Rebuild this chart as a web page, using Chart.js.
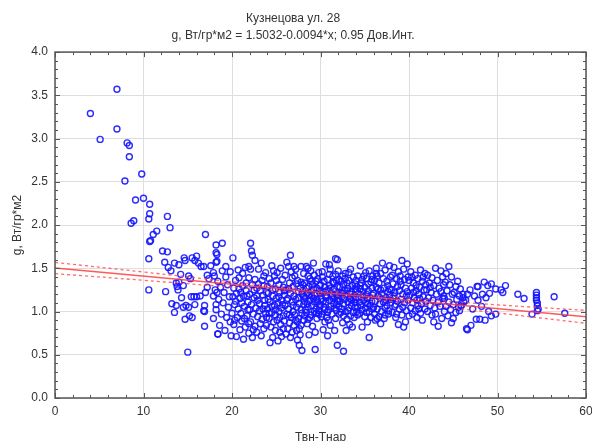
<!DOCTYPE html>
<html>
<head>
<meta charset="utf-8">
<script src="https://cdn.jsdelivr.net/npm/chart.js@4"></script>
<style>
  body { margin: 0; background: #fff; }
  canvas { display: block; }
</style>
</head>
<body>
<canvas id="chart" width="592" height="441"></canvas>
<script>
const titleLines = ['Кузнецова ул. 28', 'g, Вт/гр*м2 = 1.5032-0.0094*x; 0.95 Дов.Инт.'];
const xLabel = 'Твн-Тнар';
const yLabel = 'g, Вт/гр*м2';

// regression and 0.95 confidence band
const fitA = 1.5032;
const fitB = -0.0094;
const bandX = [0, 10, 20, 30, 40, 50, 60];
const bandUp = [1.568, 1.457, 1.345, 1.246, 1.155, 1.077, 1.014];
const bandLo = [1.438, 1.361, 1.281, 1.196, 1.095, 0.983, 0.864];

// observations, grouped by Твн-Тнар range
const tailLeft = [[4.0,3.29],[7.0,3.57],[7.0,3.11],[5.1,2.99],[8.15,2.95],[8.4,2.92],[8.4,2.79],[9.8,2.59],[7.9,2.51],
  [9.1,2.29],[10.0,2.31],[10.7,2.24],[10.7,2.13],[10.6,2.07],[8.9,2.05],[8.6,2.02],[12.7,2.10],[13.0,1.97],[11.5,1.93],
  [11.1,1.89],[10.7,1.81],[10.8,1.82]];

const obs12to18 = [[17.0,1.89],[18.2,1.68],[12.15,1.70],[12.7,1.69],[10.6,1.61],[14.6,1.62],[14.7,1.59],[15.5,1.62],
  [16.0,1.64],[15.8,1.59],[12.4,1.57],[13.5,1.56],[14.0,1.54],[12.8,1.51],[13.1,1.47],[16.2,1.56],[16.5,1.52],[16.8,1.52],
  [17.6,1.53],[18.2,1.57],[14.2,1.43],[15.1,1.41],[15.3,1.38],[17.2,1.42],[17.4,1.38],[17.9,1.45],[18.0,1.41],[10.6,1.25],
  [12.5,1.23],[13.7,1.33],[13.8,1.29],[13.9,1.25],[14.5,1.30],[14.0,1.34],[14.3,1.16],[15.4,1.17],[15.7,1.17],[16.0,1.17],
  [16.4,1.18],[17.0,1.22],[17.2,1.28],[17.9,1.18],[18.3,1.22],[13.2,1.09],[13.7,1.07],[14.8,1.07],[15.8,1.08],[16.9,1.07],
  [18.2,1.08],[13.5,0.99],[14.5,1.05],[15.1,1.05],[16.8,1.01],[16.9,1.00],[14.7,0.91],[15.2,0.95],[15.5,0.93],[17.9,0.92],
  [16.9,0.83],[18.4,0.74],[15.0,0.53]];

const obs18to24 = [[18.2,1.77],[18.3,1.66],[18.3,1.58],[18.9,1.79],[18.9,1.47],[19.3,1.52],[18.4,1.35],[18.7,1.28],
  [19.1,1.22],[19.5,1.31],[18.5,1.14],[19.0,1.10],[19.6,1.05],[18.2,1.02],[18.8,0.97],[19.4,0.93],[19.8,0.88],[18.6,0.84],
  [19.2,0.78],[19.9,0.72],[18.4,0.74],[19.7,1.17],[19.3,1.40],[18.1,1.25],[19.8,1.46],
  [20.1,1.62],[20.4,1.36],[20.8,1.39],[20.2,1.27],[20.5,1.21],[20.9,1.15],[21.2,1.30],[21.5,1.51],[21.9,1.52],[21.9,1.39],
  [21.6,1.24],[21.3,1.18],[20.3,1.08],[20.7,1.03],[21.0,0.98],[21.4,1.06],[21.8,1.11],[20.6,0.93],[21.1,0.89],[21.7,0.95],
  [20.2,0.85],[20.9,0.79],[21.5,0.82],[21.9,0.75],[20.5,0.71],[21.3,0.68],[20.0,0.98],[20.4,1.12],[21.0,1.22],[21.6,1.33],
  [21.2,1.44],[20.7,1.48],[21.8,1.02],[20.1,1.17],[21.4,0.92],[20.8,1.26],[21.7,1.18],[20.3,0.90],[21.1,1.10],[21.9,0.86],
  [22.1,1.79],[22.2,1.70],[22.3,1.65],[22.6,1.59],[23.3,1.56],[22.1,1.49],[23.0,1.49],[22.6,1.37],[23.4,1.36],[23.8,1.45],
  [22.3,1.31],[22.8,1.27],[23.2,1.24],[23.6,1.30],[22.0,1.20],[22.5,1.16],[22.9,1.13],[23.5,1.19],[23.9,1.22],[22.2,1.08],
  [22.7,1.04],[23.1,1.01],[23.7,1.07],[22.4,0.97],[22.9,0.94],[23.4,0.91],[23.8,0.98],[22.1,0.88],[22.6,0.83],[23.2,0.86],
  [23.6,0.80],[22.8,0.76],[23.3,0.72],[22.3,0.70],[23.9,0.84],[22.5,1.25],[23.0,1.32],[23.7,1.13],[22.0,1.02],[23.5,1.03],
  [22.8,1.18],[23.9,0.93],[22.4,0.79],[23.1,1.09],[23.6,1.41]];

const obs24to30 = [[24.5,1.53],[24.7,1.47],[25.5,1.50],[24.2,1.38],[25.1,1.45],[25.7,1.37],[24.0,1.29],[24.4,1.33],
  [24.9,1.26],[25.3,1.31],[25.8,1.28],[24.1,1.21],[24.6,1.18],[25.0,1.15],[25.4,1.22],[25.9,1.19],[24.3,1.11],[24.8,1.07],
  [25.2,1.10],[25.6,1.04],[24.0,1.03],[24.5,0.99],[24.9,0.96],[25.3,1.00],[25.8,0.95],[24.2,0.92],[24.7,0.88],[25.1,0.90],
  [25.5,0.85],[25.9,0.89],[24.4,0.82],[24.9,0.78],[25.4,0.76],[25.8,0.80],[24.6,0.70],[25.2,0.66],[24.3,0.64],[25.6,0.71],
  [24.8,1.41],[25.6,1.13],[24.1,1.14],[25.0,1.36],[24.6,1.25],[25.3,1.17],[24.2,0.98],[25.7,1.08],[24.9,1.02],[25.4,0.93],
  [24.5,1.06],[25.9,1.24],
  [26.2,1.57],[26.6,1.65],[26.4,1.52],[27.0,1.52],[27.2,1.49],[26.8,1.39],[27.4,1.36],[27.8,1.52],[26.0,1.42],[26.5,1.33],
  [26.9,1.29],[27.3,1.32],[27.7,1.27],[26.1,1.25],[26.6,1.21],[27.0,1.18],[27.5,1.23],[27.9,1.20],[26.3,1.15],[26.8,1.11],
  [27.2,1.14],[27.6,1.09],[26.0,1.07],[26.4,1.03],[26.9,1.00],[27.3,1.05],[27.8,1.02],[26.2,0.97],[26.7,0.93],[27.1,0.96],
  [27.5,0.92],[27.9,0.98],[26.5,0.87],[27.0,0.84],[27.4,0.88],[27.8,0.84],[26.3,0.80],[26.8,0.76],[27.3,0.78],[27.7,0.73],
  [26.6,0.70],[27.4,0.67],[27.6,0.61],[27.9,0.55],[26.1,0.74],[27.6,0.80],[26.7,1.46],[27.1,1.41],[26.4,1.26],[27.5,1.16],
  [26.9,1.07],[27.2,0.90],[26.2,1.13],[27.8,1.34],[26.5,0.96],
  [28.4,1.52],[28.6,1.50],[29.2,1.56],[29.8,1.45],[29.3,1.42],[28.1,1.44],[28.8,1.38],[29.5,1.35],[28.2,1.33],[28.7,1.29],
  [29.1,1.31],[29.6,1.27],[28.0,1.24],[28.5,1.21],[28.9,1.23],[29.4,1.19],[29.9,1.22],[28.3,1.16],[28.8,1.13],[29.2,1.15],
  [29.7,1.11],[28.1,1.08],[28.6,1.05],[29.0,1.07],[29.5,1.03],[29.9,1.06],[28.4,0.99],[28.9,0.96],[29.3,1.00],[29.8,0.97],
  [28.1,0.90],[28.5,0.86],[29.6,0.92],[29.4,0.76],[28.7,0.73],[29.4,0.56],[28.2,1.12],[29.0,1.18],[29.7,1.38],[28.6,1.41],
  [29.2,1.26],[28.3,1.02],[29.6,1.14],[28.8,0.93],[29.1,0.83],[28.0,1.31],[29.9,1.30],[28.5,1.09],[29.3,1.11],[28.9,1.47],
  [28.2,0.95],[29.5,0.98],[28.7,1.19],[29.8,1.01],[28.4,1.27],[29.0,1.35],[28.1,1.17],[29.6,1.21],[28.6,0.91]];

const obs30to36 = [[30.6,1.55],[31.0,1.54],[31.1,1.49],[31.7,1.61],[31.9,1.60],[31.7,1.43],[30.2,1.40],[30.8,1.37],
  [31.4,1.34],[30.0,1.31],[30.5,1.28],[31.0,1.30],[31.5,1.26],[31.9,1.29],[30.3,1.22],[30.7,1.19],[31.2,1.21],[31.6,1.17],
  [30.1,1.14],[30.6,1.11],[31.0,1.13],[31.5,1.09],[31.9,1.12],[30.4,1.05],[30.9,1.02],[31.3,0.97],[31.8,1.01],[30.2,0.97],
  [30.7,0.93],[31.7,0.92],[30.5,0.88],[31.1,0.84],[30.3,0.79],[31.6,0.78],[30.8,0.72],[31.9,0.61],[30.1,1.24],[30.9,1.25],
  [31.4,1.41],[30.4,1.35],[31.8,1.36],[30.6,1.16],[31.2,1.06],[30.0,1.08],[31.6,1.04],[30.8,0.99],[31.4,1.15],[30.2,1.46],
  [31.0,1.43],[30.5,1.02],[31.7,1.20],[30.3,1.12],[31.1,1.27],[30.9,0.90],[31.5,1.33],[30.7,1.24],[31.8,1.08],[30.1,0.94],
  [31.3,1.18],
  [32.1,0.97],[32.6,0.95],[33.4,0.95],[33.6,0.82],[32.6,0.54],[33.4,1.49],[33.2,1.45],[32.5,1.41],[32.0,1.47],[32.8,1.38],
  [33.7,1.40],[32.3,1.35],[33.0,1.33],[33.9,1.32],[32.2,1.28],[32.7,1.25],[33.1,1.27],[33.5,1.23],[33.9,1.26],[32.0,1.20],
  [32.4,1.17],[32.9,1.19],[33.3,1.15],[33.8,1.18],[32.2,1.12],[32.6,1.09],[33.1,1.11],[33.5,1.07],[33.9,1.10],[32.4,1.03],
  [32.8,1.00],[33.2,1.04],[33.7,0.99],[32.1,1.06],[33.0,0.91],[33.8,0.93],[32.5,0.87],[33.3,0.85],[32.9,0.78],[33.6,1.30],
  [32.3,1.22],[33.2,1.36],[32.7,1.14],[33.5,1.13],[32.0,1.15],[33.9,1.05],[32.6,1.31],[33.0,1.24],[32.3,0.99],[33.4,1.20],
  [32.8,1.44],[33.7,1.16],[32.1,1.37],[33.1,1.01],[32.5,1.21],
  [34.5,1.53],[34.2,1.41],[35.1,1.45],[35.9,1.41],[34.2,0.96],[35.3,0.88],[34.7,0.82],[35.5,0.70],[34.0,1.36],[34.6,1.33],
  [35.2,1.38],[35.7,1.34],[34.1,1.29],[34.5,1.26],[35.0,1.28],[35.4,1.24],[35.8,1.27],[34.3,1.21],[34.8,1.18],[35.2,1.20],
  [35.6,1.16],[34.0,1.14],[34.4,1.11],[34.9,1.13],[35.3,1.09],[35.8,1.12],[34.2,1.05],[34.7,1.02],[35.1,1.04],[35.5,1.00],
  [35.9,1.03],[34.4,0.98],[35.0,0.94],[35.7,0.93],[34.9,1.41],[35.5,1.47],[34.3,1.16],[35.1,1.10],[34.6,1.07],[35.4,1.32],
  [34.8,1.23],[35.9,1.19],[34.1,1.00],[35.6,1.07],[34.5,1.30],[35.2,0.99],[34.0,1.24],[35.8,1.37],[34.7,1.37],[35.3,1.15]];

const obs36to46 = [[36.4,1.41],[36.2,0.90],[36.4,0.92],[37.7,0.97],[36.3,1.50],[36.8,1.44],[37.3,1.48],[37.8,1.53],
  [36.1,1.36],[36.6,1.33],[37.1,1.38],[37.5,1.35],[37.9,1.40],[36.3,1.28],[36.8,1.25],[37.2,1.27],[37.6,1.23],[36.0,1.21],
  [36.5,1.18],[36.9,1.20],[37.4,1.16],[37.8,1.19],[36.2,1.12],[36.7,1.09],[37.1,1.11],[37.5,1.07],[37.9,1.10],[36.4,1.03],
  [36.9,1.00],[37.3,1.04],[37.7,1.01],[36.1,0.97],[36.6,0.94],[37.2,0.92],[36.8,0.86],[37.0,1.56],[37.6,1.30],[36.5,1.26],
  [37.4,1.13],[36.0,1.05],[37.9,1.14],[36.7,1.16],[37.3,0.96],[36.3,1.44],[37.8,1.26],
  [39.2,1.59],[38.5,0.93],[39.6,0.88],[40.0,0.95],[38.3,1.51],[38.8,1.46],[39.4,1.49],[39.8,1.55],[38.1,1.42],[38.6,1.38],
  [39.0,1.41],[39.5,1.37],[39.9,1.40],[38.2,1.32],[38.7,1.29],[39.1,1.31],[39.6,1.27],[38.0,1.25],[38.4,1.22],[38.9,1.24],
  [39.3,1.20],[39.8,1.23],[38.2,1.15],[38.7,1.12],[39.1,1.14],[39.5,1.10],[39.9,1.13],[38.4,1.06],[38.9,1.03],[39.3,1.05],
  [39.7,1.01],[38.1,0.99],[38.6,0.97],[39.2,0.96],[38.8,0.85],[39.4,0.82],[38.3,1.18],[39.0,1.35],[39.7,1.18],[38.5,1.08],
  [40.4,0.97],[41.1,1.03],[40.2,1.46],[40.7,1.42],[41.3,1.48],[41.8,1.44],[40.0,1.36],[40.5,1.33],[41.0,1.38],[41.5,1.35],
  [41.9,1.31],[40.3,1.27],[40.8,1.24],[41.2,1.28],[41.7,1.25],[40.1,1.19],[40.6,1.16],[41.1,1.20],[41.6,1.17],[40.4,1.10],
  [40.9,1.13],[41.4,1.09],[41.9,1.12],[40.2,1.04],[40.7,1.01],[41.3,0.98],[41.8,1.03],[40.9,0.93],[41.5,0.90],[41.0,1.07],
  [40.5,1.22],[41.6,1.40],[40.3,1.40],[41.2,1.15],[40.8,1.30],
  [43.0,1.50],[43.6,1.47],[43.0,0.97],[44.0,1.00],[42.1,1.42],[42.6,1.39],[43.2,1.36],[43.8,1.40],[42.3,1.33],[42.8,1.30],
  [43.4,1.27],[43.9,1.31],[42.0,1.25],[42.5,1.22],[43.1,1.20],[43.6,1.23],[42.2,1.16],[42.7,1.13],[43.3,1.11],[43.8,1.15],
  [42.4,1.07],[42.9,1.04],[43.5,1.06],[42.1,1.00],[42.6,0.96],[43.7,0.92],[42.8,0.88],[43.3,0.83],[42.4,1.28],[43.9,1.18],
  [44.5,1.52],[45.5,1.35],[44.2,1.44],[44.8,1.40],[45.3,1.29],[45.8,1.26],[44.1,1.34],[44.6,1.31],[45.1,1.22],[45.7,1.18],
  [44.3,1.24],[44.9,1.20],[45.4,1.14],[44.0,1.15],[44.5,1.11],[45.0,1.08],[45.6,1.05],[44.2,1.06],[44.7,1.02],[45.3,0.99],
  [44.4,0.95],[45.0,0.92],[44.8,0.87],[45.9,1.07],[45.7,1.01]];

const tailRight = [[46.1,1.20],[46.6,1.20],[46.1,1.16],[46.4,1.13],[45.9,1.07],[46.2,1.11],[47.7,1.29],[48.5,1.34],
  [47.8,1.29],[48.9,1.30],[49.3,1.32],[48.3,1.20],[49.1,1.21],[48.7,1.16],[49.8,1.26],[50.4,1.25],[50.6,1.22],[47.8,1.13],
  [49.0,1.00],[49.3,0.95],[49.8,0.97],[47.6,0.91],[48.0,0.91],[48.6,0.90],[47.0,0.84],[46.6,0.79],[46.5,0.80],[52.3,1.20],
  [53.0,1.15],[54.4,1.22],[54.4,1.19],[54.4,1.16],[54.4,1.13],[54.5,1.10],[54.5,1.07],[54.6,1.03],[53.9,0.97],[54.5,1.01],
  [56.4,1.17],[57.6,0.98],[47.2,1.03],[46.9,1.25],[47.4,1.18],[48.2,1.06],[50.9,1.30]];

const observations = [].concat(tailLeft, obs12to18, obs18to24, obs24to30, obs30to36, obs36to46, tailRight)
  .map(p => ({ x: p[0], y: p[1] }));

const fitLine = [{ x: 0, y: fitA }, { x: 60, y: fitA + fitB * 60 }];
const upperBand = bandX.map((x, i) => ({ x, y: bandUp[i] }));
const lowerBand = bandX.map((x, i) => ({ x, y: bandLo[i] }));

// frame round the plot plus the small inward ticks
const frameTicks = {
  id: 'frameTicks',
  afterDraw(chart) {
    const { ctx, chartArea: a, scales: { x, y } } = chart;
    ctx.save();
    ctx.strokeStyle = '#555';
    ctx.lineWidth = 1;
    ctx.beginPath();
    for (let v = 0; v <= 60; v += 2) {
      const px = Math.round(x.getPixelForValue(v)) + 0.5;
      const len = v % 10 === 0 ? 5 : 3;
      ctx.moveTo(px, a.bottom); ctx.lineTo(px, a.bottom - len);
      ctx.moveTo(px, a.top); ctx.lineTo(px, a.top + len);
    }
    for (let i = 0; i <= 40; i++) {
      const py = Math.round(y.getPixelForValue(i / 10)) + 0.5;
      const len = i % 5 === 0 ? 5 : 3;
      ctx.moveTo(a.left, py); ctx.lineTo(a.left + len, py);
      ctx.moveTo(a.right, py); ctx.lineTo(a.right - len, py);
    }
    ctx.stroke();
    ctx.lineWidth = 1.5;
    ctx.strokeRect(a.left, a.top, a.right - a.left, a.bottom - a.top);
    ctx.restore();
  }
};

const textFont = { family: 'Liberation Sans, Arial, sans-serif', size: 12 };

new Chart(document.getElementById('chart'), {
  type: 'scatter',
  data: {
    datasets: [
      {
        label: 'g',
        data: observations,
        showLine: false,
        pointStyle: 'circle',
        pointRadius: 3,
        pointBorderWidth: 1.4,
        pointBorderColor: 'rgba(20,20,255,0.9)',
        pointBackgroundColor: 'rgba(0,0,0,0)',
        order: 2
      },
      {
        label: 'fit',
        type: 'line',
        data: fitLine,
        borderColor: 'rgba(255,60,60,0.85)',
        borderWidth: 1.5,
        pointRadius: 0,
        order: 1
      },
      {
        label: 'upper',
        type: 'line',
        data: upperBand,
        borderColor: 'rgba(255,70,70,0.8)',
        borderWidth: 1.3,
        borderDash: [3, 3],
        tension: 0.4,
        pointRadius: 0,
        order: 1
      },
      {
        label: 'lower',
        type: 'line',
        data: lowerBand,
        borderColor: 'rgba(255,70,70,0.8)',
        borderWidth: 1.3,
        borderDash: [3, 3],
        tension: 0.4,
        pointRadius: 0,
        order: 1
      }
    ]
  },
  options: {
    responsive: false,
    animation: false,
    events: [],
    layout: { padding: { left: 0, right: 6, top: 0, bottom: 0 } },
    plugins: {
      legend: { display: false },
      tooltip: { enabled: false },
      title: {
        display: true,
        text: titleLines,
        color: '#333',
        font: { ...textFont, weight: 'normal', lineHeight: 1.42 },
        padding: { top: 10, bottom: 8 }
      }
    },
    scales: {
      x: {
        type: 'linear',
        min: 0,
        max: 60,
        afterFit: s => { s.height = 43; s.paddingRight = 0; s.paddingLeft = 0; },
        ticks: { stepSize: 10, color: '#333', font: textFont, padding: 6 },
        grid: { color: '#dedede', drawTicks: false },
        border: { display: false },
        title: { display: true, text: xLabel, color: '#333', font: textFont, padding: { top: 0, bottom: -4 } }
      },
      y: {
        type: 'linear',
        min: 0,
        max: 4,
        afterFit: s => { s.width = 55; },
        ticks: { stepSize: 0.5, color: '#333', font: textFont, padding: 7, callback: v => v.toFixed(1) },
        grid: { color: '#dedede', drawTicks: false },
        border: { display: false },
        title: { display: true, text: yLabel, color: '#333', font: textFont, padding: { top: 10, bottom: 0 } }
      }
    }
  },
  plugins: [frameTicks]
});
</script>
</body>
</html>
